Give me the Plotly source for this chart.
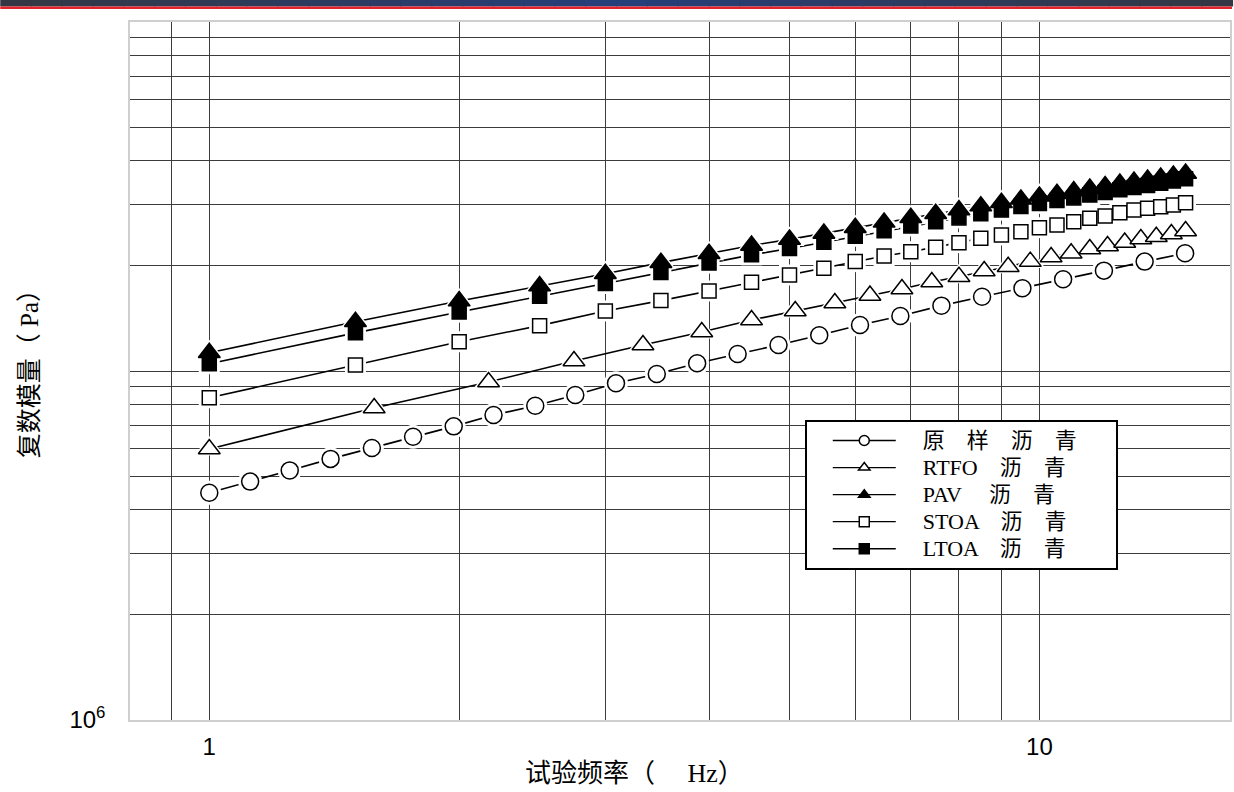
import plotly.graph_objects as go

# ---------------- data ----------------
freq_orig = [1.00, 1.12, 1.25, 1.40, 1.57, 1.76, 1.97, 2.20, 2.47, 2.76, 3.09, 3.46, 3.87,
             4.33, 4.85, 5.43, 6.08, 6.80, 7.62, 8.53, 9.54, 10.68, 11.96, 13.39, 14.98]
g_orig = [4.48e6, 4.82e6, 5.19e6, 5.60e6, 6.02e6, 6.48e6, 6.94e6, 7.48e6, 7.95e6, 8.54e6,
          9.22e6, 9.80e6, 1.052e7, 1.119e7, 1.187e7, 1.266e7, 1.355e7, 1.438e7, 1.539e7,
          1.633e7, 1.726e7, 1.831e7, 1.939e7, 2.058e7, 2.174e7]

freq_rtfo = [1.00, 1.58, 2.17, 2.75, 3.33, 3.92, 4.50, 5.08, 5.67, 6.25, 6.83, 7.42, 8.00,
             8.58, 9.17, 9.75, 10.33, 10.92, 11.50, 12.08, 12.67, 13.25, 13.83, 14.42, 15.00]
g_rtfo = [5.98e6, 7.83e6, 9.30e6, 1.068e7, 1.187e7, 1.293e7, 1.400e7, 1.486e7, 1.566e7,
          1.646e7, 1.718e7, 1.799e7, 1.863e7, 1.934e7, 1.990e7, 2.058e7, 2.122e7, 2.174e7,
          2.237e7, 2.282e7, 2.335e7, 2.389e7, 2.425e7, 2.470e7, 2.518e7]

freq_half = [1.0, 1.5, 2.0, 2.5, 3.0, 3.5, 4.0, 4.5, 5.0, 5.5, 6.0, 6.5, 7.0, 7.5, 8.0,
             8.5, 9.0, 9.5, 10.0, 10.5, 11.0, 11.5, 12.0, 12.5, 13.0, 13.5, 14.0, 14.5, 15.0]
g_pav = [1.128e7, 1.384e7, 1.586e7, 1.751e7, 1.900e7, 2.044e7, 2.168e7, 2.290e7, 2.383e7,
         2.479e7, 2.574e7, 2.666e7, 2.750e7, 2.823e7, 2.891e7, 2.968e7, 3.036e7, 3.103e7,
         3.165e7, 3.222e7, 3.277e7, 3.336e7, 3.392e7, 3.448e7, 3.494e7, 3.540e7, 3.587e7,
         3.634e7, 3.683e7]
g_stoa = [8.38e6, 1.040e7, 1.213e7, 1.349e7, 1.486e7, 1.591e7, 1.695e7, 1.796e7, 1.884e7,
          1.970e7, 2.058e7, 2.136e7, 2.197e7, 2.262e7, 2.332e7, 2.400e7, 2.453e7, 2.507e7,
          2.574e7, 2.620e7, 2.678e7, 2.739e7, 2.781e7, 2.842e7, 2.893e7, 2.926e7, 2.957e7,
          2.990e7, 3.036e7]
g_ltoa = [1.049e7, 1.286e7, 1.475e7, 1.637e7, 1.781e7, 1.915e7, 2.038e7, 2.152e7, 2.245e7,
          2.339e7, 2.432e7, 2.521e7, 2.604e7, 2.678e7, 2.746e7, 2.823e7, 2.891e7, 2.958e7,
          3.022e7, 3.078e7, 3.133e7, 3.192e7, 3.246e7, 3.305e7, 3.353e7, 3.402e7, 3.452e7,
          3.503e7, 3.554e7]

series_names = ["原　样　沥　青", "RTFO　沥　青", "PAV　 沥　青", "STOA　沥　青", "LTOA　沥　青"]

x_tick_vals = [1, 10]
x_tick_text = ["1", "10"]
x_minor_grid = [0.9, 2, 3, 4, 5, 6, 7, 8, 9]
y_tick_vals = [1e6]
y_tick_text = ["10<sup>6</sup>"]
y_minor_grid = [2e6, 3e6, 4e6, 5e6, 6e6, 7e6, 8e6, 9e6,
                1e7, 2e7, 3e7, 4e7, 5e7, 6e7, 7e7, 8e7, 9e7]

x_title = "试验频率（　 Hz）"
y_title = "复数模量（ Pa）"

# ---------------- styling ----------------
SERIF = "Liberation Serif, DejaVu Serif, Noto Sans CJK SC"
SANS = "Liberation Sans, Arial, sans-serif"
GRID = "#3c3c3c"

series = [
    (freq_orig, g_orig, "circle", "white", 17),
    (freq_rtfo, g_rtfo, "triangle-up", "white", 19),
    (freq_half, g_pav, "triangle-up", "black", 19),
    (freq_half, g_stoa, "square", "white", 14),
    (freq_half, g_ltoa, "square", "black", 14),
]

fig = go.Figure()

for (x, y, sym, fill, size) in series:
    fig.add_trace(go.Scatter(x=x, y=y, mode="lines", line=dict(color="black", width=1.6),
                             showlegend=False, hoverinfo="skip"))
for (x, y, sym, fill, size) in series:
    fig.add_trace(go.Scatter(x=x, y=y, mode="markers",
                             marker=dict(symbol=sym, size=size + 7, color="white",
                                         line=dict(width=0)),
                             showlegend=False, hoverinfo="skip"))
order = [0, 1, 3, 4, 2]
for i in order:
    x, y, sym, fill, size = series[i]
    fig.add_trace(go.Scatter(x=x, y=y, mode="markers", name=series_names[i],
                             marker=dict(symbol=sym, size=size, color=fill,
                                         line=dict(color="black", width=1.5)),
                             showlegend=False))
# legend entries (leading / trailing wide spaces reproduce the reference's spacing)
for i, (x, y, sym, fill, size) in enumerate(series):
    label = "\u3000" + series_names[i] + ("\u3000\u2002" if i == 0 else "")
    label = '<span style="font-size:22px">' + label + "</span>"
    fig.add_trace(go.Scatter(x=[None], y=[None], mode="lines+markers", name=label,
                             line=dict(color="black", width=1.4),
                             marker=dict(symbol=sym, size=10, color=fill,
                                         line=dict(color="black", width=1.5)),
                             showlegend=True))

shapes = []
n = 40
W = 1102.0
H = 698.0
x_left = -130 / W
x_right = 1 + 2 / W
for k in range(n):
    t = (k + 0.5) / n
    d = abs(t - 0.5) * 2
    c0 = (38, 62, 122)
    c1 = (52, 55, 66)
    col = tuple(int(round(c0[j] * (1 - d) + c1[j] * d)) for j in range(3))
    x0 = x_left + (x_right - x_left) * k / n
    x1 = x_left + (x_right - x_left) * (k + 1) / n
    shapes.append(dict(type="rect", xref="paper", yref="paper", x0=x0, x1=x1 + 0.001,
                       y0=(720 - 6.5) / H, y1=(720 + 2) / H,
                       fillcolor="rgb(%d,%d,%d)" % col, line=dict(width=0), layer="above"))
shapes.append(dict(type="rect", xref="paper", yref="paper", x0=x_left, x1=x_right,
                   y0=(720 - 9) / H, y1=(720 - 6.5) / H,
                   fillcolor="#e3232b", line=dict(width=0), layer="above"))

axis_common = dict(showgrid=True, gridcolor=GRID, gridwidth=1.4, zeroline=False,
                   showline=True, linecolor="#cfcfcf", linewidth=1.5, mirror=True, ticks="",
                   tickfont=dict(family=SANS, size=24, color="black"))

fig.update_layout(
    width=1234, height=792, autosize=False,
    margin=dict(l=130, r=2, t=22, b=72, pad=0),
    paper_bgcolor="white", plot_bgcolor="white",
    shapes=shapes,
    showlegend=True,
    legend=dict(x=(806 - 130) / W, y=(720 - 420) / H, xanchor="left", yanchor="top",
                bgcolor="white", bordercolor="black", borderwidth=2,
                font=dict(family=SERIF, size=18.5, color="black"),
                itemsizing="trace", tracegroupgap=0, indentation=21, itemwidth=63),
    xaxis=dict(type="log", range=[-0.0955, 1.2296], tickmode="array",
               tickvals=x_tick_vals, ticktext=x_tick_text, ticklabelstandoff=4,
               minor=dict(tickmode="array", tickvals=x_minor_grid, showgrid=True,
                          gridcolor=GRID, gridwidth=1.4, ticks=""),
               **axis_common),
    yaxis=dict(type="log", range=[6, 8], tickmode="array",
               tickvals=y_tick_vals, ticktext=y_tick_text, ticklabelstandoff=18,
               minor=dict(tickmode="array", tickvals=y_minor_grid, showgrid=True,
                          gridcolor=GRID, gridwidth=1.4, ticks=""),
               **axis_common),
    annotations=[
        dict(text=x_title, xref="paper", yref="paper", x=(524 - 130) / W, y=(720 - 773) / H,
             xanchor="left", yanchor="middle", showarrow=False,
             font=dict(family=SERIF, size=26, color="black")),
        dict(text=y_title, xref="paper", yref="paper", x=(29 - 130) / W, y=(720 - 368) / H,
             xanchor="center", yanchor="middle", showarrow=False, textangle=-90,
             font=dict(family=SERIF, size=25, color="black")),
    ],
)

fig.write_html("out.html", config={"displayModeBar": False},
               post_script="document.body.style.margin='0';")
